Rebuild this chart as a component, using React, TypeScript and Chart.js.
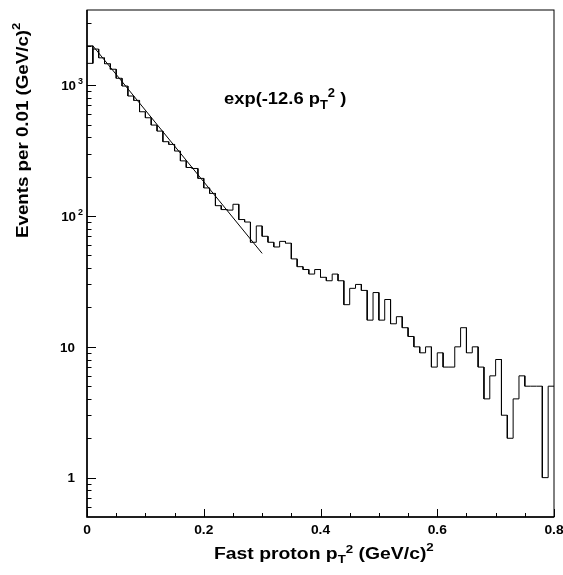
import React, { useEffect, useRef } from "react";
import { Chart, registerables } from "chart.js";

Chart.register(...registerables);

// ---- data ----
const X_MIN = 0;
const X_MAX = 0.8;
const BIN_WIDTH = 0.01;
const Y_MIN = 0.5;
const Y_MAX = 3760;

// events per bin (bins of 0.01 (GeV/c)^2 from 0 to 0.8)
const counts = [
  1470, 1890, 1620, 1460, 1325, 1130, 986, 827, 766, 627,
  564, 496, 446, 370, 353, 314, 264, 235, 231, 194,
  164, 149, 120, 112, 111, 123, 94, 90, 63, 84,
  70, 63, 58, 64, 62, 47, 41, 39, 36, 39,
  34, 32, 36, 32, 21, 28, 30, 27, 16, 26,
  16, 23, 15, 17, 14, 12, 10, 9, 10, 7,
  9, 7, 7, 10, 14, 9, 10, 7, 4, 6,
  8, 3, 2, 4, 6, 5, 5, 5, 1, 5,
];
// upper edge drawn on the first bin
const firstBinUpper = 2000;

// fit exp(-12.6 pT^2)
const FIT_NORM = 2270;
const FIT_SLOPE = -12.6;
const FIT_RANGE = [0.01, 0.3];

const xMajorTicks = [0, 0.2, 0.4, 0.6, 0.8];
const xTickLabels = ["0", "0.2", "0.4", "0.6", "0.8"];
const xMinorTicks = [0.05, 0.1, 0.15, 0.25, 0.3, 0.35, 0.45, 0.5, 0.55, 0.65, 0.7, 0.75];
const yMajorTicks = [1, 10, 100, 1000];
const yTickBase = ["1", "10", "10", "10"];
const yTickExp = ["", "", "2", "3"];
const yMinorTicks = [
  0.6, 0.7, 0.8, 0.9, 2, 3, 4, 5, 6, 7, 8, 9,
  20, 30, 40, 50, 60, 70, 80, 90,
  200, 300, 400, 500, 600, 700, 800, 900, 2000, 3000,
];

const FONT = '"Liberation Sans", Arial, Helvetica, sans-serif';

type Seg = { t: string; size: number; dy?: number };

function drawRich(
  ctx: CanvasRenderingContext2D,
  segs: Seg[],
  x: number,
  y: number,
  align: "left" | "center" | "right",
  rot = 0,
  sx = 1
) {
  ctx.save();
  ctx.translate(x, y);
  if (rot) ctx.rotate(rot);
  ctx.scale(sx, 1);
  ctx.textAlign = "left";
  ctx.textBaseline = "alphabetic";
  ctx.fillStyle = "#000";
  let total = 0;
  const widths: number[] = [];
  for (const s of segs) {
    ctx.font = `bold ${s.size}px ${FONT}`;
    const w = ctx.measureText(s.t).width;
    widths.push(w);
    total += w;
  }
  let cx = align === "left" ? 0 : align === "center" ? -total / 2 : -total;
  segs.forEach((s, i) => {
    ctx.font = `bold ${s.size}px ${FONT}`;
    ctx.fillText(s.t, cx, s.dy ?? 0);
    cx += widths[i];
  });
  ctx.restore();
}

const decorPlugin = {
  id: "rootDecor",
  afterDatasetsDraw(chart: any) {
    const { ctx, chartArea: a, scales } = chart;
    const xs = scales.x;
    const ys = scales.y;
    ctx.save();
    ctx.strokeStyle = "#000";
    // frame
    ctx.lineWidth = 1;
    ctx.strokeRect(a.left, a.top, a.right - a.left, a.bottom - a.top);
    ctx.lineWidth = 1.5;
    ctx.beginPath();
    ctx.moveTo(a.left, a.top);
    ctx.lineTo(a.left, a.bottom);
    ctx.lineTo(a.right, a.bottom);
    ctx.stroke();
    // ticks
    ctx.lineWidth = 1;
    ctx.beginPath();
    xMajorTicks.forEach((v) => {
      const px = Math.round(xs.getPixelForValue(v)) + 0.5;
      ctx.moveTo(px, a.bottom);
      ctx.lineTo(px, a.bottom - 8);
    });
    xMinorTicks.forEach((v) => {
      const px = Math.round(xs.getPixelForValue(v)) + 0.5;
      ctx.moveTo(px, a.bottom);
      ctx.lineTo(px, a.bottom - 4);
    });
    yMajorTicks.forEach((v) => {
      const py = Math.round(ys.getPixelForValue(v)) + 0.5;
      ctx.moveTo(a.left, py);
      ctx.lineTo(a.left + 9, py);
    });
    yMinorTicks.forEach((v) => {
      const py = Math.round(ys.getPixelForValue(v)) + 0.5;
      ctx.moveTo(a.left, py);
      ctx.lineTo(a.left + 4.5, py);
    });
    ctx.stroke();

    // tick labels
    xMajorTicks.forEach((v, i) => {
      drawRich(ctx, [{ t: xTickLabels[i], size: 12 }], xs.getPixelForValue(v), a.bottom + 16.5, "center", 0, 1.15);
    });
    yMajorTicks.forEach((v, i) => {
      const py = ys.getPixelForValue(v);
      const segs: Seg[] = [{ t: yTickBase[i], size: 13.4 }];
      if (yTickExp[i]) {
        segs.push({ t: " ", size: 7 });
        segs.push({ t: yTickExp[i], size: 9, dy: -6 });
        drawRich(ctx, segs, a.left - 4, py + 4.8, "right");
      } else {
        drawRich(ctx, segs, a.left - 12, py + 4.8, "right");
      }
    });

    // axis titles
    drawRich(
      ctx,
      [
        { t: "Fast proton p", size: 16 },
        { t: "T", size: 11, dy: 4 },
        { t: "2", size: 11, dy: -6 },
        { t: " (GeV/c)", size: 16 },
        { t: "2", size: 11, dy: -8 },
      ],
      214,
      559,
      "left",
      0,
      1.21
    );
    drawRich(
      ctx,
      [
        { t: "Events per 0.01 (GeV/c)", size: 16 },
        { t: "2", size: 11, dy: -8 },
      ],
      28,
      238,
      "left",
      -Math.PI / 2,
      1.17
    );

    // fit label
    drawRich(
      ctx,
      [
        { t: "exp(-12.6 p", size: 17 },
        { t: "T", size: 12, dy: 4.5 },
        { t: "2", size: 12, dy: -7 },
        { t: " )", size: 17 },
      ],
      224,
      104,
      "left",
      0,
      1.08
    );
    ctx.restore();
  },
};

export default function App() {
  const ref = useRef<HTMLCanvasElement | null>(null);

  useEffect(() => {
    document.body.style.margin = "0";
    const canvas = ref.current;
    if (!canvas) return;

    const histPoints: { x: number; y: number }[] = [];
    counts.forEach((c, i) => {
      histPoints.push({ x: X_MIN + i * BIN_WIDTH, y: c });
      histPoints.push({ x: X_MIN + (i + 1) * BIN_WIDTH, y: c });
    });

    const firstBinPoints = [
      { x: X_MIN, y: firstBinUpper },
      { x: X_MIN + BIN_WIDTH, y: firstBinUpper },
      { x: X_MIN + BIN_WIDTH, y: counts[0] },
    ];

    const fitPoints = FIT_RANGE.map((x) => ({ x, y: FIT_NORM * Math.exp(FIT_SLOPE * x) }));

    const lineStyle = {
      borderColor: "#000",
      borderWidth: 1,
      pointRadius: 0,
      tension: 0,
      fill: false,
    };

    const chart = new Chart(canvas, {
      type: "line",
      data: {
        datasets: [
          { data: histPoints, ...lineStyle },
          { data: firstBinPoints, ...lineStyle },
          { data: fitPoints, ...lineStyle },
        ],
      },
      options: {
        responsive: false,
        animation: false,
        parsing: false,
        layout: { padding: { left: 87, top: 10, right: 9, bottom: 58 } },
        plugins: { legend: { display: false }, tooltip: { enabled: false } },
        scales: {
          x: { type: "linear", min: X_MIN, max: X_MAX, display: false },
          y: { type: "logarithmic", min: Y_MIN, max: Y_MAX, display: false },
        },
      },
      plugins: [decorPlugin],
    });
    return () => chart.destroy();
  }, []);

  return (
    <div style={{ width: 563, height: 575, background: "#fff" }}>
      <canvas ref={ref} width={563} height={575} style={{ display: "block" }} />
    </div>
  );
}
